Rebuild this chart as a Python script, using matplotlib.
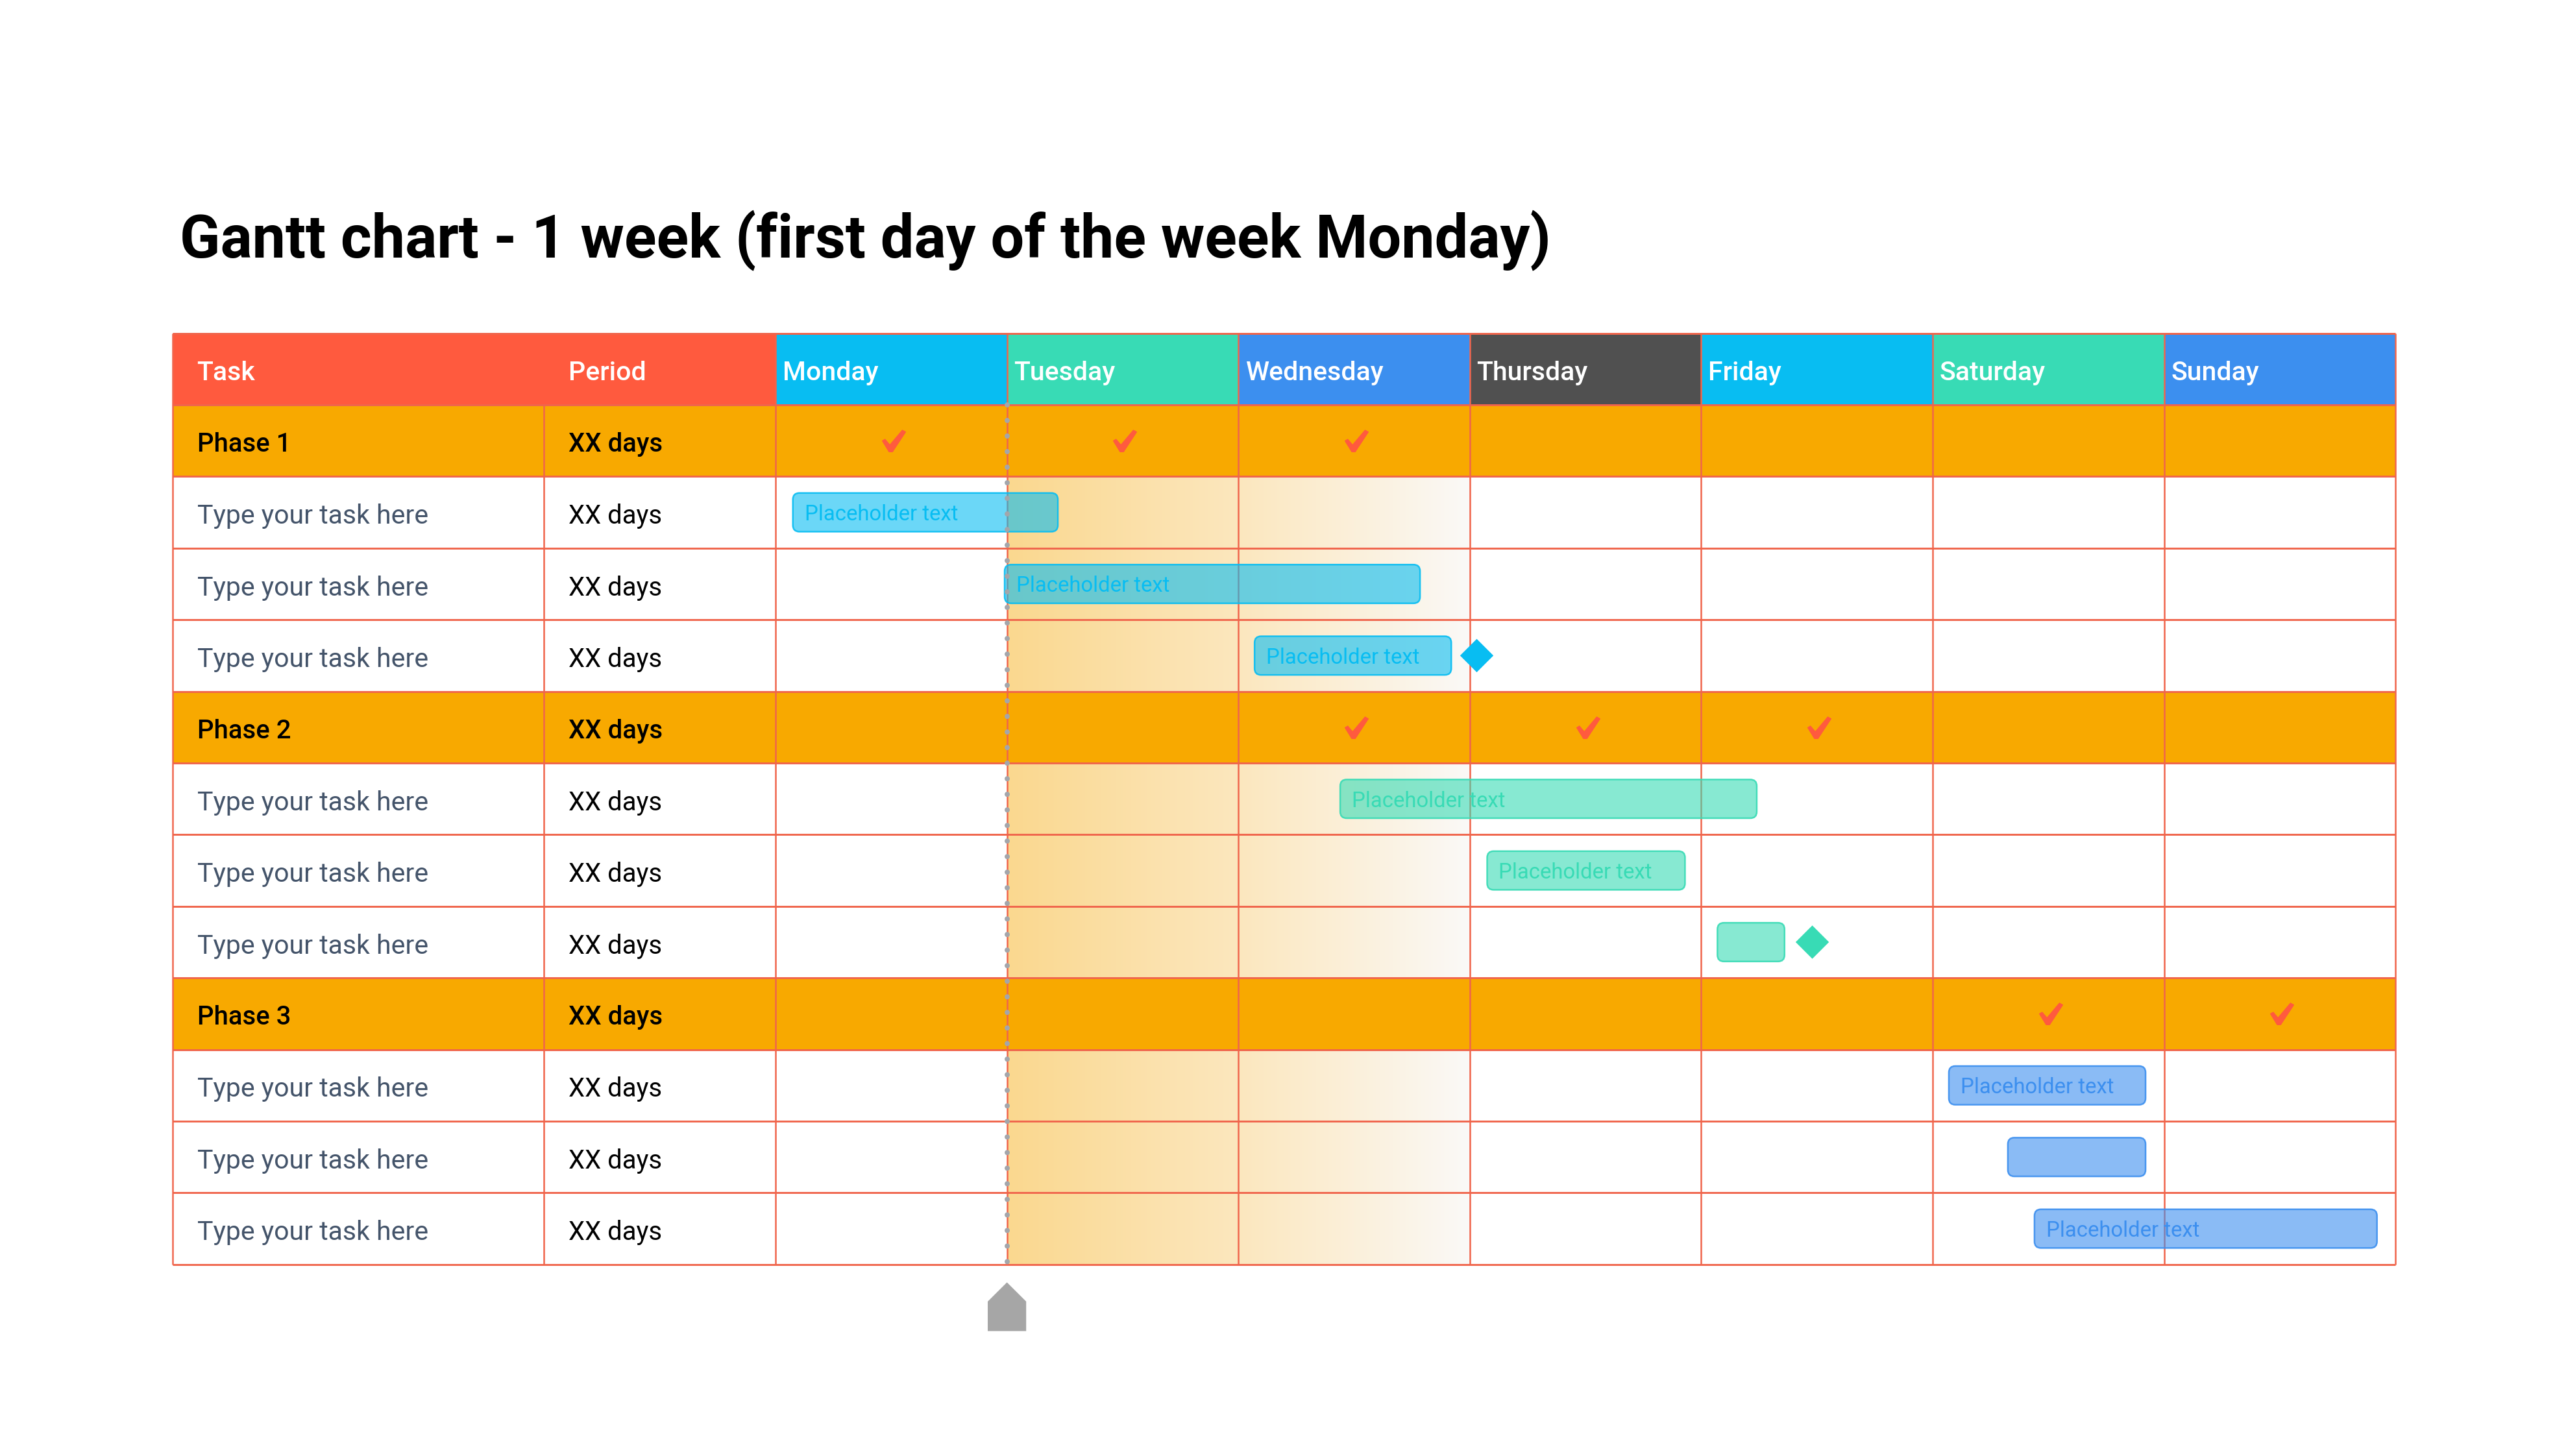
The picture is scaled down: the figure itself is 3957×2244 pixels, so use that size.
import numpy as np
import matplotlib
matplotlib.use('Agg')
import matplotlib.pyplot as plt
from matplotlib.colors import LinearSegmentedColormap, to_rgba
from matplotlib.patches import FancyBboxPatch, Polygon, Rectangle
from matplotlib.path import Path

plt.rcParams['font.family'] = ['Roboto', 'DejaVu Sans']

title = 'Gantt chart - 1 week (first day of the week Monday)'
days = ['Monday', 'Tuesday', 'Wednesday', 'Thursday', 'Friday', 'Saturday', 'Sunday']
day_colors = ['#08BDF2', '#38DBB5', '#3C8FEF', '#505050', '#08BDF2', '#38DBB5', '#3C8FEF']

row_labels = ['Phase 1', 'Type your task here', 'Type your task here', 'Type your task here',
              'Phase 2', 'Type your task here', 'Type your task here', 'Type your task here',
              'Phase 3', 'Type your task here', 'Type your task here', 'Type your task here']
periods = ['XX days'] * 12
phase_rows = [1, 5, 9]
phase_checks = [[0, 1, 2], [2, 3, 4], [5, 6]]

bar_rows = [2, 3, 4, 6, 7, 8, 10, 11, 12]
bar_starts = [0.075, 0.99, 2.07, 2.44, 3.075, 4.07, 5.07, 5.325, 5.44]
bar_ends = [1.22, 2.785, 2.92, 4.24, 3.93, 4.36, 5.92, 5.92, 6.92]
bar_labels = ['Placeholder text', 'Placeholder text', 'Placeholder text',
              'Placeholder text', 'Placeholder text', '',
              'Placeholder text', '', 'Placeholder text']
bar_colors = ['#08BDF2'] * 3 + ['#38DBB5'] * 3 + ['#3C8FEF'] * 3

milestone_rows = [4, 8]
milestone_days = [3.03, 4.48]
milestone_colors = ['#08BDF2', '#38DBB5']

today = 1.0

GRID = '#F0654C'
RED = '#FF5A3E'
ORANGE = '#F8A900'
DAY_PX = 356.6
ROW_PX = 110.4
TASK_X = -2.5
PERIOD_X = -0.895
COL_PERIOD = -1.0
COL_LEFT = -2.605
TEXT_DY = 0.055

# tapered tick used as a marker
check_marker = Path([(-17.9, 0), (-13.8, 2.5), (-6.3, -6.3), (12.9, 16.5), (17.9, 13.7),
                     (-2.2, -16.8), (-7.6, -16.8), (-17.9, 0)], closed=True)

fig = plt.figure(figsize=(3957 / 300, 2244 / 300), dpi=300)
ax = fig.add_axes([0, 0, 1, 1])

# gradient behind the task rows
cmap = LinearSegmentedColormap.from_list('today', ['#FAD88F', '#FCE7BE', '#FAF9F7'])
ax.imshow(np.linspace(0, 1, 256).reshape(1, -1), cmap=cmap, aspect='auto',
          extent=[today, today + 2, 13, 2], zorder=1)

ax.set_xlim(-1195 / DAY_PX, (3957 - 1195) / DAY_PX)
ax.set_ylim((2244 - 513.6) / ROW_PX, -513.6 / ROW_PX)
ax.axis('off')

# header
ax.add_patch(Rectangle((COL_LEFT, 0), -COL_LEFT, 1, fc=RED, ec='none', zorder=2))
for i, (d, c) in enumerate(zip(days, day_colors)):
    ax.add_patch(Rectangle((i, 0), 1, 1, fc=c, ec='none', zorder=2))
    ax.text(i + 0.03, 0.5 + TEXT_DY, d, color='white', fontsize=9.85, fontweight='medium',
            va='center', ha='left', zorder=6)
ax.text(TASK_X, 0.5 + TEXT_DY, 'Task', color='white', fontsize=9.85, fontweight='medium', va='center', zorder=6)
ax.text(PERIOD_X, 0.5 + TEXT_DY, 'Period', color='white', fontsize=9.85, fontweight='medium', va='center', zorder=6)

# phase rows
for r in phase_rows:
    ax.add_patch(Rectangle((COL_LEFT, r), 7 - COL_LEFT, 1, fc=ORANGE, ec='none', zorder=2))

# grid
ax.hlines(np.arange(0, 14), COL_LEFT, 7, color=GRID, lw=0.7, zorder=3)
ax.vlines(np.arange(0, 8), 0, 13, color=GRID, lw=0.6, zorder=3)
ax.vlines([COL_LEFT], 0, 13, color=GRID, lw=0.6, zorder=3)
ax.vlines([COL_PERIOD], 1, 13, color=GRID, lw=0.6, zorder=3)

# labels
for i, (lab, per) in enumerate(zip(row_labels, periods)):
    y = i + 1.5 + TEXT_DY
    if i + 1 in phase_rows:
        ax.text(TASK_X, y, lab, color='black', fontsize=9.6, fontweight='medium', va='center', zorder=6)
        ax.text(PERIOD_X, y, per, color='black', fontsize=9.6, fontweight='medium', va='center', zorder=6)
    else:
        ax.text(TASK_X, y, lab, color='#44546A', fontsize=9.85, va='center', zorder=6)
        ax.text(PERIOD_X, y, per, color='black', fontsize=9.6, va='center', zorder=6)

# check marks
for r, checks in zip(phase_rows, phase_checks):
    ax.scatter([d + 0.51 for d in checks], [r + 0.5] * len(checks), marker=check_marker, s=74,
               c=RED, linewidths=0.3, edgecolors=RED, zorder=6)

# task bars
bar_h = 0.54
aspect = DAY_PX / ROW_PX
for r, s, e, lab, c in zip(bar_rows, bar_starts, bar_ends, bar_labels, bar_colors):
    ax.add_patch(FancyBboxPatch((s, r + 0.5 - bar_h / 2), e - s, bar_h,
                                boxstyle='round,pad=0,rounding_size=0.028', mutation_aspect=aspect,
                                fc=to_rgba(c, 0.6), ec=to_rgba(c, 0.9), lw=0.6, zorder=4))
    if lab:
        ax.text(s + 0.05, r + 0.53, lab, color=c, fontsize=7.9, va='center', zorder=5)

# milestones
ax.scatter(milestone_days, [r + 0.5 for r in milestone_rows], marker='D', s=76,
           c=milestone_colors, linewidths=0, zorder=5)

# today line and marker
ax.plot([today, today], [1, 13], color='#A3A6AB', lw=1.92, ls=(0, (0.001, 3)),
        dash_capstyle='round', zorder=7)
ax.add_patch(Polygon([(today, 13.25), (today + 0.083, 13.517), (today + 0.083, 13.93),
                      (today - 0.083, 13.93), (today - 0.083, 13.517)],
                     closed=True, fc='#A6A6A6', ec='none', zorder=5))

ax.text(-2.573, -1.295, title, color='black', fontsize=22, fontweight='bold', va='center', ha='left')

fig.savefig('out.png', dpi=300)
